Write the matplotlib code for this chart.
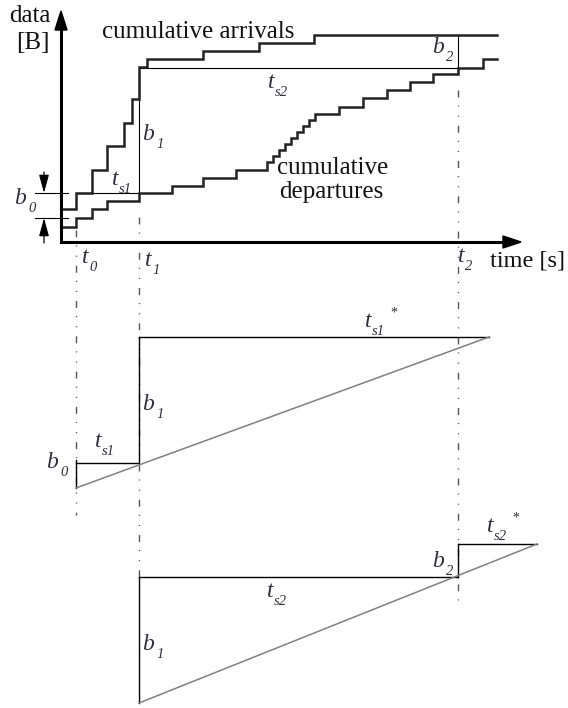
import matplotlib
matplotlib.use("Agg")
import matplotlib.pyplot as plt

plt.rcParams['lines.scale_dashes'] = False
serif = {'family': 'Liberation Serif'}

# Top chart: time (px from y-axis) and data (px above x-axis)
arr_t = [0, 15, 31, 46, 63, 71, 78, 86, 142, 198, 253, 436]
arr_b = [33, 49, 72, 96, 119, 143, 175, 183, 191, 199, 207, 207]

dep_t = [0, 15, 31, 46, 78, 111, 142, 175, 206, 212, 218, 224, 230, 236, 242,
         248, 254, 278, 302, 326, 349, 372, 397, 422, 436]
dep_b = [15, 24, 33, 41, 49, 56, 64, 72, 80, 86, 92, 98, 104, 110, 116,
         122, 128, 135, 144, 152, 160, 168, 174, 183, 183]

t0, t1, t2 = 15, 78, 397
b0_lo, b0_hi = 24, 49          # b0 bracket levels
b1_top = 175                   # level reached at t1
b2_lo, b2_hi = 174, 207        # b2 at t2
ts1_star_end = 428
ts2_star_end = 476

# Backlog diagrams
b0 = 25
b1 = 126
b2 = 33

ORIGIN_X, ORIGIN_Y = 61, 242
MID_Y = 488
BOT_Y = 703


def X(t):
    return ORIGIN_X + t


def Y(b):
    return ORIGIN_Y - b


fig = plt.figure(figsize=(5.68, 7.08), dpi=100)
ax = fig.add_axes([0, 0, 1, 1])
ax.set_xlim(0, 568)
ax.set_ylim(708, 0)
ax.axis('off')

dashdot = (0, (5, 5.8, 0.8, 6.5, 0.8, 6.5))
guide = dict(color='#555555', lw=1.0, linestyle=dashdot)

# vertical guides t0, t1, t2
ax.plot([X(t0), X(t0)], [230, 515], **guide)
ax.plot([X(t1), X(t1)], [217, BOT_Y - b1], **guide)
ax.plot([X(t2), X(t2)], [90, 608], **guide)

# thin helper lines in the top chart
thin = dict(color='black', lw=0.8)
ax.plot([35, 68], [Y(b0_hi), Y(b0_hi)], **thin)
ax.plot([35, 68], [Y(b0_lo), Y(b0_lo)], **thin)
ax.plot([X(t0), X(t1)], [Y(b0_hi), Y(b0_hi)], **thin)
ax.plot([X(t1), X(t1)], [Y(b0_hi), Y(b1_top)], **thin)
ax.plot([X(t1), X(t2)], [Y(b2_lo), Y(b2_lo)], **thin)
ax.plot([X(t2), X(t2)], [Y(b2_lo), Y(b2_hi)], **thin)

# b0 arrows
head = '-|>,head_length=1.1,head_width=0.3'
ax.annotate('', xy=(44, Y(b0_hi)), xytext=(44, 172),
            arrowprops=dict(arrowstyle=head, color='black', lw=0.9,
                            shrinkA=0, shrinkB=0))
ax.annotate('', xy=(44, Y(b0_lo)), xytext=(44, 243),
            arrowprops=dict(arrowstyle=head, color='black', lw=0.9,
                            shrinkA=0, shrinkB=0))

# cumulative curves
ax.step([X(t) for t in arr_t], [Y(b) for b in arr_b], where='post',
        color='#222222', lw=1.8, solid_joinstyle='miter')
ax.step([X(t) for t in dep_t], [Y(b) for b in dep_b], where='post',
        color='#222222', lw=1.8, solid_joinstyle='miter')

# axes with arrows
ax.plot([ORIGIN_X, ORIGIN_X], [ORIGIN_Y, 28], color='black', lw=2.2)
ax.plot([ORIGIN_X, 505], [ORIGIN_Y, ORIGIN_Y], color='black', lw=2.2)
ax.fill([ORIGIN_X - 6, ORIGIN_X + 6, ORIGIN_X], [30, 30, 11], color='black')
ax.fill([503, 503, 521], [ORIGIN_Y - 6, ORIGIN_Y + 6, ORIGIN_Y], color='black')

# middle backlog diagram
line = dict(color='black', lw=1.0)
slope = dict(color='#808080', lw=1.1)
ax.plot([X(t0), X(t0)], [MID_Y, MID_Y - b0 - 3], **line)
ax.plot([X(t0), X(t1)], [MID_Y - b0, MID_Y - b0], **line)
ax.plot([X(t1), X(t1)], [MID_Y - b0, MID_Y - b0 - b1], **line)
ax.plot([X(t1), X(ts1_star_end)], [MID_Y - b0 - b1, MID_Y - b0 - b1], **line)
ax.plot([X(t0), X(ts1_star_end)], [MID_Y, MID_Y - b0 - b1], **slope)

# bottom backlog diagram
ax.plot([X(t1), X(t1)], [BOT_Y, BOT_Y - b1], **line)
ax.plot([X(t1), X(t2)], [BOT_Y - b1, BOT_Y - b1], **line)
ax.plot([X(t2), X(t2)], [BOT_Y - b1, BOT_Y - b1 - b2], **line)
ax.plot([X(t2), X(ts2_star_end)], [BOT_Y - b1 - b2, BOT_Y - b1 - b2], **line)
ax.plot([X(t1), X(ts2_star_end)], [BOT_Y, BOT_Y - b1 - b2], **slope)

# plain text
FS = 18
TXT = '#111111'
ax.text(30, 22, 'data', fontsize=FS, ha='center', va='baseline', color=TXT, **serif)
ax.text(33, 49, '[B]', fontsize=FS, ha='center', va='baseline', color=TXT, **serif)
ax.text(102, 38, 'cumulative arrivals', fontsize=FS, ha='left', va='baseline',
        color=TXT, **serif)
ax.text(333, 174, 'cumulative', fontsize=FS, ha='center', va='baseline',
        color=TXT, **serif)
ax.text(331, 198, 'departures', fontsize=FS, ha='center', va='baseline',
        color=TXT, **serif)
ax.text(565, 266, 'time [s]', fontsize=17.5, ha='right', va='baseline',
        color=TXT, **serif)

LAB_COL = '#2e2e3a'


def label(x, y, main, sub, star=False):
    ax.text(x, y, main, fontsize=17, style='italic', ha='left', va='baseline',
            color=LAB_COL, **serif)
    dx = 14 if main == 'b' else 7
    ax.text(x + dx, y + 8, sub, fontsize=10.5, style='italic', ha='left',
            va='baseline', color=LAB_COL, **serif)
    if star:
        ax.text(x + dx + 7 * len(sub) + 4, y - 20, '*', fontsize=10, ha='left',
                va='top', color=LAB_COL, **serif)


# top chart labels
label(14, 204, 'b', '0')
label(82, 263, 't', '0')
label(145, 266, 't', '1')
label(458, 262, 't', '2')
label(142, 140, 'b', '1')
label(112, 185, 't', 's1')
label(268, 88, 't', 's2')
label(432, 53, 'b', '2')

# middle diagram labels
label(46, 468, 'b', '0')
label(95, 447, 't', 's1')
label(142, 410, 'b', '1')
label(365, 327, 't', 's1', star=True)

# bottom diagram labels
label(142, 650, 'b', '1')
label(267, 597, 't', 's2')
label(432, 567, 'b', '2')
label(487, 532, 't', 's2', star=True)

fig.savefig('out.png', dpi=100)
